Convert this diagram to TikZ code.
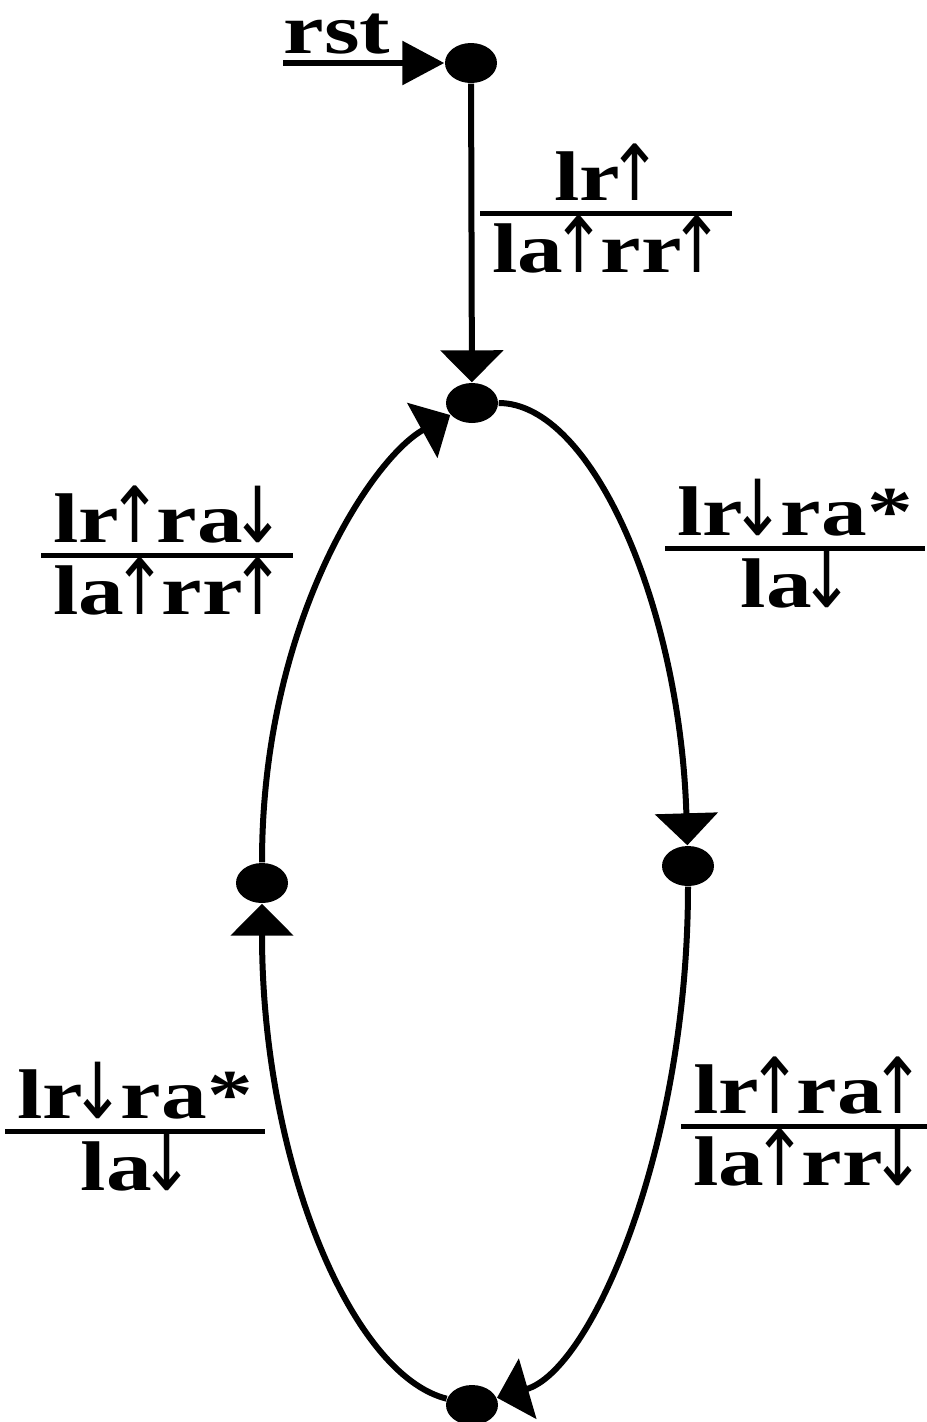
\documentclass[tikz,border=0pt]{standalone}
\usepackage{fontspec}
\setmainfont{Liberation Serif}[FakeStretch=1.3]
\newfontfamily\arrowfont{DejaVu Sans}[FakeStretch=0.85]
\usepackage{tikz}
\usetikzlibrary{arrows.meta, positioning, shapes.geometric}
\newcommand{\upa}{\kern-3.5pt{\arrowfont\mdseries\fontsize{22}{24}\selectfont ↑}\kern-1.5pt}
\newcommand{\dna}{\kern-3.5pt{\arrowfont\mdseries\fontsize{22}{24}\selectfont ↓}\kern-1.5pt}
\newcommand{\trlabel}[2]{\vbox{\offinterlineskip\halign{\hskip3.5pt\hfil##\hfil\hskip3.5pt\cr
  \vrule height15pt depth1pt width0pt\smash{#1}\cr
  \noalign{\kern2pt\hrule height1.4pt\kern2pt}
  \vrule height14pt depth5pt width0pt\smash{#2}\cr}}}

\begin{document}
\begin{tikzpicture}[>={Triangle[length=0.32cm, width=0.62cm]},
    state/.style={ellipse, fill, minimum width=0.52cm, minimum height=0.40cm, inner sep=0pt},
    edge/.style={line width=0.06cm, ->},
    lbl/.style={font=\fontsize{20}{24}\selectfont\bfseries}]

  \useasboundingbox (0,0) rectangle (9.27,-14.22);

  % states, top down
  \node[state] (s0) at (4.71, -0.63) {};
  \node[state] (s1) at (4.72, -4.03) {};
  \node[state] (s2) at (6.88, -8.66) {};
  \node[state] (s3) at (2.62, -8.83) {};
  \node[state] (s4) at (4.72, -14.05) {};

  % reset input
  \coordinate (rstin) at (2.83, -0.63);
  \node[lbl, above right=0.08cm and 0cm of rstin, inner sep=0pt] (rstlbl) {rst};
  \draw[edge, >={Triangle[length=0.42cm, width=0.43cm]}] (rstin) -- (s0);

  % transitions
  \draw[edge] (s0) -- (s1);
  \draw[edge] (s1) .. controls +(1.2,0) and +(-0.08,2.6) .. (s2);
  \draw[edge] (s2) .. controls +(0,-2.8) and +(1.2,0.35) .. (s4);
  \draw[edge] (s4) .. controls +(-1.2,0.3) and +(0,-2.8) .. (s3);
  \draw[edge] (s3) .. controls +(0,2.6) and +(-1.0,-0.55) .. (s1);

  % guard / action labels
  \node[lbl] (l01) at (6.06, -2.19) {\trlabel{lr\upa}{la\upa rr\upa}};
  \node[lbl] (l31) at (1.67, -5.61) {\trlabel{lr\upa ra\dna}{la\upa rr\upa}};
  \node[lbl] (l12) at (7.95, -5.54) {\trlabel{lr\dna ra*}{la\dna}};
  \node[lbl] (l43) at (1.35, -11.37) {\trlabel{lr\dna ra*}{la\dna}};
  \node[lbl] (l24) at (8.07, -11.32) {\trlabel{lr\upa ra\upa}{la\upa rr\dna}};
\end{tikzpicture}
\end{document}
